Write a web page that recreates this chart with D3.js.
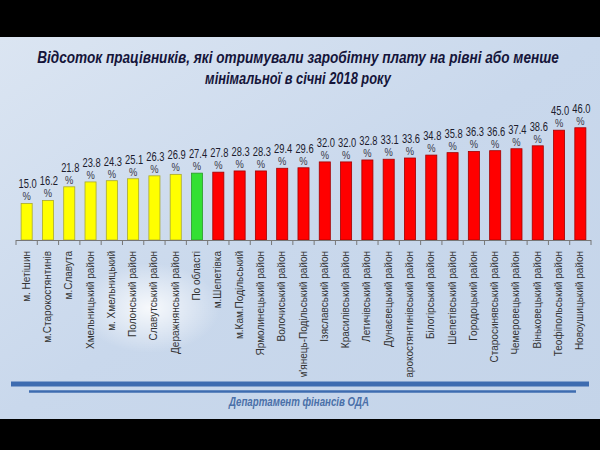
<!DOCTYPE html>
<html><head><meta charset="utf-8">
<script src="https://cdn.jsdelivr.net/npm/d3@7"></script>
<style>html,body{margin:0;padding:0;background:#000;}svg{display:block;}</style>
</head><body>
<script>
const categories = ["м. Нетішин","м.Старокостянтинів","м.Славута","Хмельницький район","м. Хмельницький","Полонський район","Славутський район","Деражнянський район","По області","м.Шепетівка","м.Кам.Подільський","Ярмолинецький район","Волочиський район","Кам'янець-Подільський район","Ізяславський район","Красилівський район","Летичівський район","Дунаєвецький район","Старокостянтинівський район","Білогірський район","Шепетівський район","Городоцький район","Старосинявський район","Чемеровецький район","Віньковецький район","Теофіпольський район","Новоушицький район"];
const values = [15.0,16.2,21.8,23.8,24.3,25.1,26.3,26.9,27.4,27.8,28.3,28.3,29.4,29.6,32.0,32.0,32.8,33.1,33.6,34.8,35.8,36.3,36.6,37.4,38.6,45.0,46.0];
const groups = ["low","low","low","low","low","low","low","low","region","high","high","high","high","high","high","high","high","high","high","high","high","high","high","high","high","high","high"];
const titleLines = ["Відсоток працівників, які отримували заробітну плату  на рівні або менше","мінімальної в січні 2018 року"];
const footer = "Департамент фінансів ОДА";

const W = 600, H = 450;
const svg = d3.select("body").append("svg").attr("width", W).attr("height", H);
const defs = svg.append("defs");
const lg = defs.append("linearGradient").attr("id","bg").attr("x1","0").attr("y1","0").attr("x2","1").attr("y2","1");
lg.append("stop").attr("offset","0").attr("stop-color","#dbe5f2");
lg.append("stop").attr("offset","0.5").attr("stop-color","#c9d8ec");
lg.append("stop").attr("offset","1").attr("stop-color","#c4d4e9");
const rg = defs.append("radialGradient").attr("id","glow");
rg.append("stop").attr("offset","0").attr("stop-color","#ffffff").attr("stop-opacity",0.85);
rg.append("stop").attr("offset","1").attr("stop-color","#ffffff").attr("stop-opacity",0);
defs.append("clipPath").attr("id","lblclip").append("rect").attr("x",0).attr("y",241).attr("width",W).attr("height",136);

svg.append("rect").attr("width",W).attr("height",H).attr("fill","#000");
svg.append("rect").attr("x",0).attr("y",37).attr("width",W).attr("height",382).attr("fill","url(#bg)");
svg.append("ellipse").attr("cx",150).attr("cy",308).attr("rx",70).attr("ry",45).attr("fill","url(#glow)");

const sans = "'Liberation Sans',Arial,sans-serif";
const titleLen = [522, 186];

// condensed text helper: scale horizontally to a target width
function fitText(sel, cx, cy, target) {
  sel.attr("text-anchor","middle").attr("transform", null);
  const len = sel.node().getComputedTextLength();
  const k = Math.min(1, target / len);
  sel.attr("transform", `translate(${cx},${cy}) scale(${k},1)`);
}

const tg = svg.append("g");
titleLines.forEach((t,i)=>{
  const s = tg.append("text")
    .attr("font-family", sans).attr("font-size", 16).attr("font-weight","bold").attr("font-style","italic")
    .attr("fill","#15153a").text(t);
  fitText(s, 298, 63 + i*21, titleLen[i]);
});

const x = d3.scaleBand().domain(categories).range([16,591]).paddingInner(0.48).paddingOuter(0.24);
const y = d3.scaleLinear().domain([0,50]).range([240,118]);
const fill = {low:"#ffff00", region:"#33e033", high:"#ff0000"};
const stroke = {low:"#a8a830", region:"#2a9a2a", high:"#a00000"};

svg.append("g").selectAll("rect").data(values).join("rect")
  .attr("x",(d,i)=>x(categories[i]))
  .attr("y",d=>y(d))
  .attr("width",x.bandwidth())
  .attr("height",d=>y(0)-y(d))
  .attr("fill",(d,i)=>fill[groups[i]])
  .attr("stroke",(d,i)=>stroke[groups[i]]).attr("stroke-width",0.8);

const vl = svg.append("g").attr("font-family",sans).attr("text-anchor","middle");
vl.selectAll("text.v").data(values).join("text").attr("class","v")
  .attr("transform",(d,i)=>`translate(${x(categories[i])+x.bandwidth()/2+1},${y(d)-15}) scale(0.78,1)`)
  .attr("font-size",12).attr("fill","#1c1c2e")
  .text(d=>d.toFixed(1));
vl.selectAll("text.p").data(values).join("text").attr("class","p")
  .attr("transform",(d,i)=>`translate(${x(categories[i])+x.bandwidth()/2},${y(d)-3}) scale(0.85,1)`)
  .attr("font-size",11).attr("fill","#3a3a4a")
  .text("%");

// axis
const ax = svg.append("g");
ax.append("line").attr("x1",16).attr("x2",591).attr("y1",240.5).attr("y2",240.5).attr("stroke","#777").attr("stroke-width",1);
const step = x.step();
const ticks = d3.range(categories.length+1).map(i=>16+i*step);
ax.selectAll("line.t").data(ticks).join("line").attr("class","t")
  .attr("x1",d=>d).attr("x2",d=>d).attr("y1",240).attr("y2",245).attr("stroke","#777");

svg.append("g").attr("clip-path","url(#lblclip)").selectAll("text").data(categories).join("text")
  .attr("transform",d=>`translate(${x(d)+x.bandwidth()/2+3},251) rotate(-90)`)
  .attr("text-anchor","end")
  .attr("font-family",sans).attr("font-size",10)
  .attr("fill","#333").text(d=>d);

// footer lines
svg.append("line").attr("x1",11).attr("x2",589).attr("y1",384).attr("y2",384).attr("stroke","#3e6cb0").attr("stroke-width",5);
svg.append("line").attr("x1",29).attr("x2",576).attr("y1",391.5).attr("y2",391.5).attr("stroke","#3e6cb0").attr("stroke-width",2.5);
const ft = svg.append("text")
  .attr("font-family",sans).attr("font-size",12.5).attr("font-weight","bold").attr("font-style","italic")
  .attr("fill","#4a70a8").text(footer);
fitText(ft, 299, 406, 140);
</script>
</body></html>
